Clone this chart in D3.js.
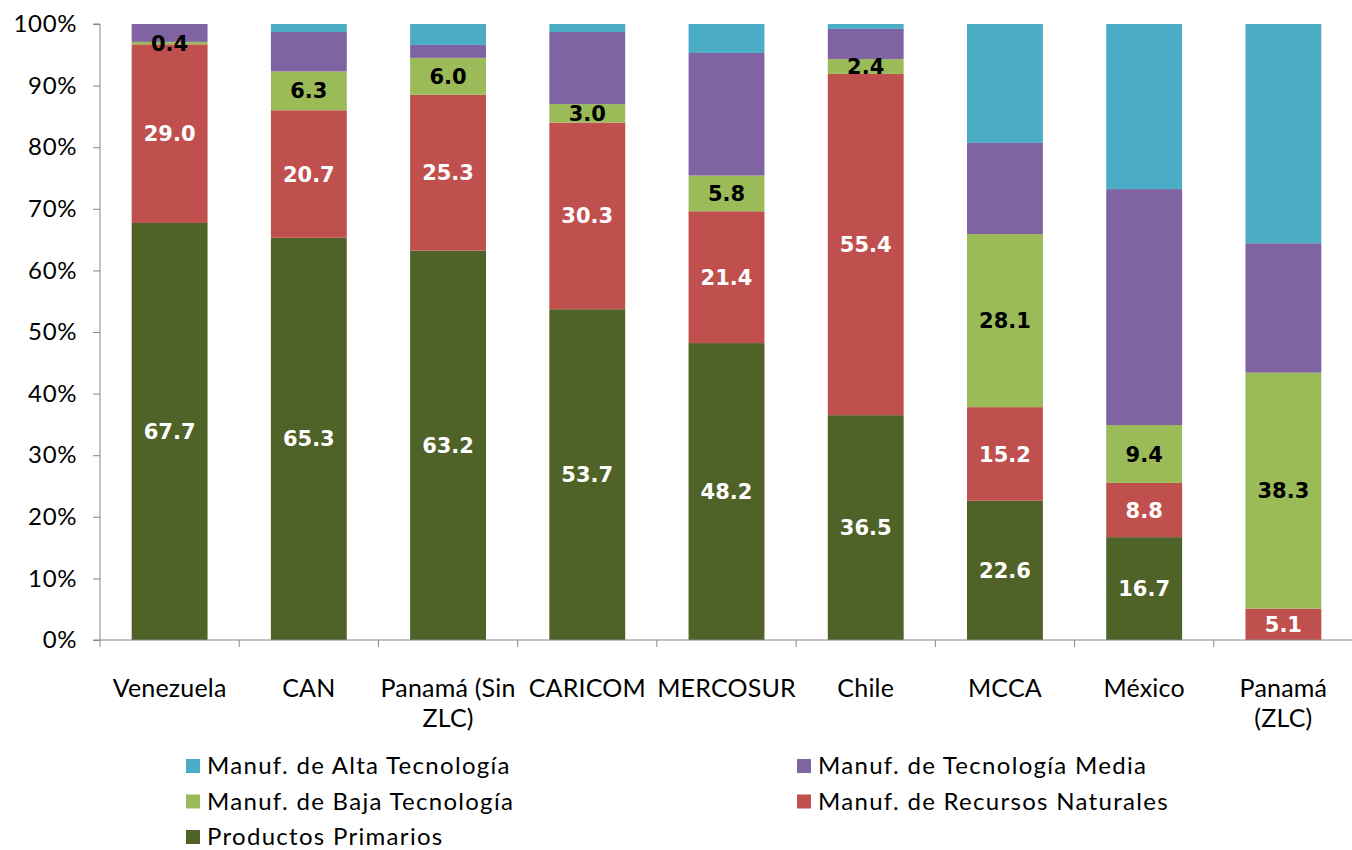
<!DOCTYPE html>
<html><head><meta charset="utf-8">
<script src="https://cdn.jsdelivr.net/npm/d3@7"></script>
<style>body{margin:0;background:#fff}svg{display:block}</style>
</head><body>
<svg id="c" width="1352" height="850"></svg>
<script>
const categories = ["Venezuela","CAN","Panamá (Sin ZLC)","CARICOM","MERCOSUR","Chile","MCCA","México","Panamá (ZLC)"];
const categoryLines = [["Venezuela"],["CAN"],["Panamá (Sin","ZLC)"],["CARICOM"],["MERCOSUR"],["Chile"],["MCCA"],["México"],["Panamá","(ZLC)"]];
const primarios = [67.7,65.3,63.2,53.7,48.2,36.5,22.6,16.7,0];
const recursos  = [29.0,20.7,25.3,30.3,21.4,55.4,15.2,8.8,5.1];
const baja      = [0.4,6.3,6.0,3.0,5.8,2.4,28.1,9.4,38.3];
const media     = [2.9,6.4,2.1,11.7,19.9,4.9,14.8,38.3,21.0];
const alta      = [0.0,1.3,3.4,1.3,4.7,0.8,19.3,26.8,35.6];
const seriesNames = ["Productos Primarios","Manuf. de Recursos Naturales","Manuf. de Baja Tecnología","Manuf. de Tecnología Media","Manuf. de Alta Tecnología"];
const seriesKeys = ["p","r","b","m","a"];
const colors = {p:"#4F6228",r:"#C0504D",b:"#9BBB59",m:"#8064A2",a:"#4BACC6"};
const labelColor = {p:"#fff",r:"#fff",b:"#000"};
const yTicks = [0,10,20,30,40,50,60,70,80,90,100];

(function(){
const rows = categories.map((c,i)=>({cat:c,p:primarios[i],r:recursos[i],b:baja[i],m:media[i],a:alta[i]}));
const svg = d3.select("#c");
const L=100,R=1353,T=24,B=640;
const x = d3.scaleBand().domain(categories).range([L,R]).paddingInner(0.455).paddingOuter(0.2275);
const y = d3.scaleLinear().domain([0,100]).range([B,T]);
const stack = d3.stack().keys(seriesKeys)(rows);

const g = svg.append("g");
stack.forEach(s=>{
  g.selectAll(null).data(s).enter().append("rect")
   .attr("x",d=>x(d.data.cat)).attr("width",x.bandwidth())
   .attr("y",d=>y(d[1])).attr("height",d=>Math.max(0,y(d[0])-y(d[1])))
   .attr("fill",colors[s.key]);
});
["p","r","b"].forEach(k=>{
  const s = stack.find(t=>t.key===k);
  g.selectAll(null).data(s.filter(d=>d[1]-d[0]>0)).enter().append("text")
   .attr("x",d=>x(d.data.cat)+x.bandwidth()/2)
   .attr("y",d=>y((d[0]+d[1])/2)).attr("dy","0.36em")
   .attr("text-anchor","middle").attr("font-family","DejaVu Sans").attr("font-weight","bold")
   .attr("font-size",21).attr("fill",labelColor[k])
   .text(d=>(d[1]-d[0]).toFixed(1));
});

const ya = svg.append("g").attr("transform",`translate(${L},0)`)
  .call(d3.axisLeft(y).tickValues(yTicks).tickFormat(d=>d+"%").tickSize(7).tickPadding(16));
ya.select(".domain").attr("stroke","#868686").attr("d",`M-7,${T}H0V${B}H-7`);
ya.selectAll(".tick line").attr("stroke","#868686");
ya.selectAll("text").attr("font-family","Lato").attr("font-size",24).attr("letter-spacing",0.6).attr("fill","#000");

const xa = svg.append("g").attr("transform",`translate(0,${B})`);
xa.append("line").attr("x1",L).attr("x2",R).attr("stroke","#868686");
const edges = categories.map(c=>x(c)-x.step()*x.paddingInner()/2).concat([R]);
xa.selectAll(null).data(edges).enter().append("line")
  .attr("x1",d=>d).attr("x2",d=>d).attr("y1",0).attr("y2",7).attr("stroke","#868686");
categories.forEach((c,i)=>{
  const cx = x(c)+x.bandwidth()/2;
  const t = xa.append("text").attr("x",cx).attr("y",57)
    .attr("text-anchor","middle").attr("font-family","Lato").attr("font-size",25)
    .attr("letter-spacing",0.2).attr("fill","#000");
  categoryLines[i].forEach((ln,j)=>t.append("tspan").attr("x",cx).attr("dy",j?30:0).text(ln));
});

const legendItems = [
  {k:"a",name:seriesNames[4],col:0,row:0},
  {k:"m",name:seriesNames[3],col:1,row:0},
  {k:"b",name:seriesNames[2],col:0,row:1},
  {k:"r",name:seriesNames[1],col:1,row:1},
  {k:"p",name:seriesNames[0],col:0,row:2}];
const lg = svg.append("g");
legendItems.forEach(it=>{
  const lx = it.col?797:186, ly = 766+it.row*35.5;
  lg.append("rect").attr("x",lx).attr("y",ly-7).attr("width",14).attr("height",14).attr("fill",colors[it.k]);
  lg.append("text").attr("x",lx+21).attr("y",ly).attr("dy","0.35em").attr("font-family","Lato")
    .attr("font-size",24).attr("letter-spacing",1.3).attr("fill","#000").text(it.name);
});
})();
</script>
</body></html>
